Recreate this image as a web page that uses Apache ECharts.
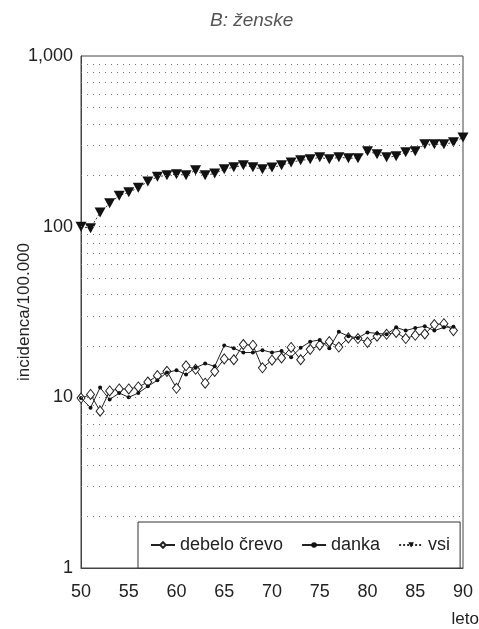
<!DOCTYPE html>
<html>
<head>
<meta charset="utf-8">
<script src="https://cdn.jsdelivr.net/npm/echarts@6/dist/echarts.min.js"></script>
<style>html,body{margin:0;padding:0;background:#fff}#c{width:479px;height:629px}</style>
</head>
<body>
<div id="c"></div>
<script>
// years: 1950 .. 1990 (shown as 50 .. 90)
var years = [50,51,52,53,54,55,56,57,58,59,60,61,62,63,64,65,66,67,68,69,70,71,72,73,74,75,76,77,78,79,80,81,82,83,84,85,86,87,88,89,90];
var debeloCrevo = [9.9,10.4,8.3,10.9,11.2,11.2,11.5,12.3,13.4,14.2,11.3,15.3,14.6,12.1,14.2,16.8,16.6,20.4,20.2,14.9,16.5,17.0,19.6,16.6,19.1,20.2,21.2,19.7,22.3,22.1,21.0,22.8,23.4,24.0,22.1,23.1,23.5,26.7,27.0,24.6];
var danka = [9.9,8.7,11.4,9.7,10.6,10.0,10.6,11.6,12.6,14.0,14.4,13.6,14.9,15.8,15.2,20.1,19.4,18.3,18.3,18.9,18.3,18.7,17.2,19.5,21.2,21.7,19.4,24.2,22.8,22.3,24.0,23.7,23.4,25.7,24.6,25.5,26.1,24.6,25.7,25.9];
var vsi = [100,98,121,137,152,159,169,184,196,200,203,200,214,200,205,217,223,229,223,217,222,229,238,245,248,255,248,255,252,252,277,266,255,259,273,277,304,304,304,312,333];
var yTicks = [1, 10, 100, 1000];
var gridValues = [2,3,4,5,6,7,8,9,10,20,30,40,50,60,70,80,90,100,200,300,400,500,600,700,800,900];

function pairs(vals) {
  var out = [];
  for (var i = 0; i < vals.length; i++) out.push([years[i], vals[i]]);
  return out;
}
var FONT = '"Liberation Sans", Arial, Helvetica, sans-serif';
var chart = echarts.init(document.getElementById('c'), null, {renderer: 'canvas'});
chart.setOption({
  animation: false,
  backgroundColor: '#fff',
  title: {
    text: 'B: ženske',
    left: 205, top: 6,
    textStyle: {fontFamily: FONT, fontSize: 19, fontStyle: 'italic', fontWeight: 'normal', color: '#555'}
  },
  grid: {left: 81, right: 16, top: 56, bottom: 61, containLabel: false, outerBoundsMode: 'none',
    show: true, borderColor: '#444', borderWidth: 1, backgroundColor: 'transparent'},
  legend: {
    left: 138, top: 522,
    padding: [14, 10, 14, 12],
    itemGap: 18,
    itemWidth: 24, itemHeight: 7,
    borderColor: '#333', borderWidth: 1,
    backgroundColor: '#fff',
    borderRadius: 0,
    textStyle: {fontFamily: FONT, fontSize: 18, color: '#222'},
    data: ['debelo črevo', 'danka', 'vsi']
  },
  xAxis: {
    type: 'value', min: 50, max: 90, interval: 5,
    axisLine: {show: true, lineStyle: {color: '#444'}},
    axisTick: {show: false},
    splitLine: {show: false},
    axisLabel: {fontFamily: FONT, fontSize: 18, color: '#222', margin: 15},
    name: 'leto', nameLocation: 'end', nameGap: 16, nameMoveOverlap: false,
    nameTextStyle: {fontFamily: FONT, fontSize: 17, color: '#222', align: 'right', verticalAlign: 'top', padding: [43, 0, 0, 0]}
  },
  yAxis: {
    type: 'log', logBase: 10, min: 1, max: 1000,
    axisLine: {show: true, lineStyle: {color: '#444'}},
    axisTick: {show: false},
    splitLine: {show: false},
    axisLabel: {fontFamily: FONT, fontSize: 18, color: '#222', margin: 8,
      formatter: function (v) { return yTicks.indexOf(v) >= 0 ? v.toLocaleString('en-US') : ''; }},
    name: 'incidenca/100.000', nameLocation: 'middle', nameRotate: 90, nameGap: 48, nameMoveOverlap: false,
    nameTextStyle: {fontFamily: FONT, fontSize: 17, color: '#222'}
  },
  series: [
    {
      name: 'debelo črevo', type: 'line', data: pairs(debeloCrevo),
      symbol: 'diamond', symbolSize: [8, 10], showAllSymbol: true,
      lineStyle: {color: '#222', width: 1},
      itemStyle: {color: '#fff', borderColor: '#222', borderWidth: 1},
      z: 3,
      markLine: {
        silent: true, symbol: 'none', animation: false,
        label: {show: false},
        lineStyle: {color: '#777', width: 1, type: [1, 5]},
        data: gridValues.map(function (v) { return {yAxis: v}; })
      }
    },
    {
      name: 'danka', type: 'line', data: pairs(danka),
      symbol: 'circle', symbolSize: 4, showAllSymbol: true,
      lineStyle: {color: '#222', width: 1},
      itemStyle: {color: '#111'},
      z: 4
    },
    {
      name: 'vsi', type: 'line', data: pairs(vsi),
      symbol: 'triangle', symbolRotate: 180, symbolSize: [11, 10], showAllSymbol: true,
      lineStyle: {color: '#333', width: 1, type: [2, 2]},
      itemStyle: {color: '#111'},
      z: 4
    }
  ]
});
</script>
</body>
</html>
